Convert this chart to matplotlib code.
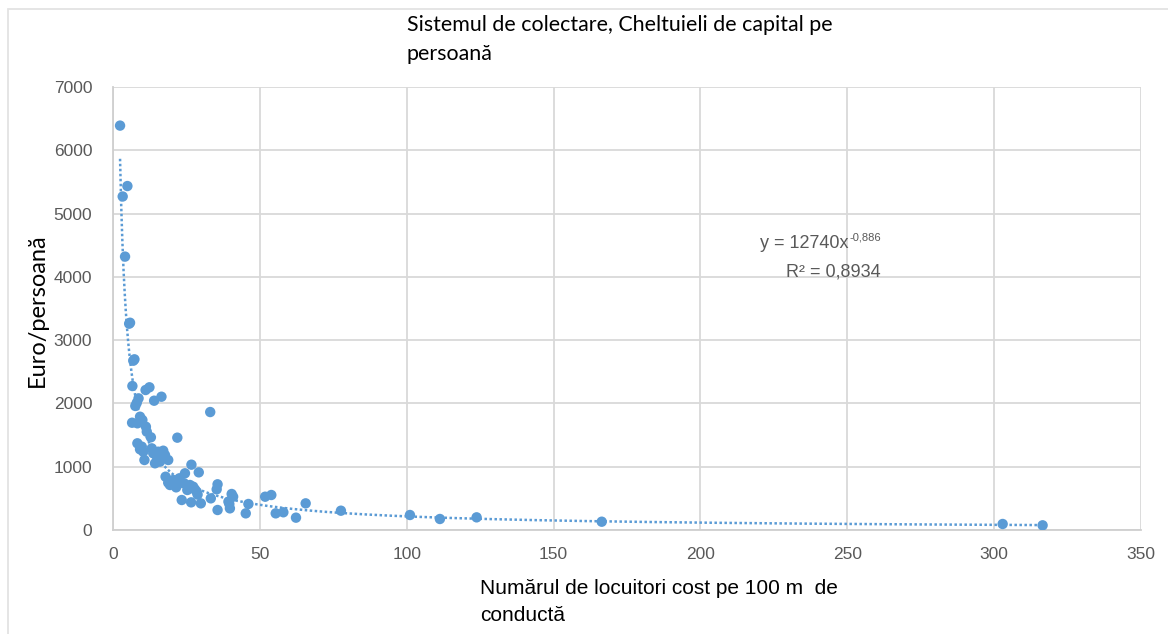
import matplotlib
matplotlib.use("Agg")
import matplotlib.pyplot as plt
import numpy as np
from matplotlib.patches import Rectangle

# ---- data ----
x_inhabitants = [2.4, 3.3, 4.9, 4.1, 5.8, 5.5, 6.9, 7.3, 6.6, 11.1, 12.4, 8.7, 8.1, 7.6, 14.0, 16.5, 33.1,
                 6.5, 9.2, 10.0, 8.3, 11.2, 11.5, 12.9, 21.9, 8.3, 9.8, 10.3, 9.2, 13.2, 13.7, 15.4, 17.1,
                 16.6, 15.1, 10.7, 14.3, 17.7, 18.8, 16.0,
                 26.7, 29.2, 17.9, 18.8, 20.5, 22.6, 24.5, 24.2, 21.5, 19.4, 22.0, 21.0, 25.3, 27.3, 28.5,
                 26.2, 27.9, 28.8, 23.4, 26.6, 29.9, 33.3, 35.6, 35.3, 35.6, 40.4, 40.9, 39.3, 39.8, 39.6,
                 45.2, 46.1, 51.8, 53.9, 55.4, 58.0, 62.3, 65.6, 77.6, 101.1, 111.3, 123.8, 166.4, 302.9, 316.5]
y_cost = [6390, 5270, 5435, 4320, 3275, 3260, 2675, 2697, 2275, 2212, 2255, 2080, 2011, 1960, 2043, 2106, 1864,
          1695, 1790, 1738, 1686, 1632, 1553, 1465, 1459, 1370, 1317, 1237, 1275, 1290, 1212, 1237, 1253,
          1158, 1133, 1106, 1054, 1185, 1106, 1080,
          1032, 911, 842, 747, 790, 817, 896, 738, 674, 711, 720, 760, 632, 684, 605,
          711, 640, 560, 474, 437, 421, 500, 722, 643, 316, 569, 526, 448, 342, 411,
          263, 411, 526, 553, 263, 280, 195, 421, 305, 237, 174, 200, 131, 95, 74]

trend_coef = 12740
trend_exp = -0.886
r_squared = "0,8934"

x_ticks = [0, 50, 100, 150, 200, 250, 300, 350]
y_ticks = [0, 1000, 2000, 3000, 4000, 5000, 6000, 7000]

title_text = "Sistemul de colectare, Cheltuieli de capital pe\npersoană"
xlabel_text = "Numărul de locuitori cost pe 100 m  de\nconductă"
ylabel_text = "Euro/persoană"

# ---- figure ----
W, H = 1168, 634
fig = plt.figure(figsize=(W / 100, H / 100), dpi=100)
fig.patch.set_facecolor("white")

def fx(px):
    return px / W

def fy(py):
    return 1 - py / H

ax = fig.add_axes([fx(113), fy(530), fx(1141) - fx(113), fy(87) - fy(530)])

blue = "#5B9BD5"
grid_c = "#D9D9D9"
tick_c = "#595959"
lib = ["Liberation Sans", "DejaVu Sans"]
lato = ["Lato", "DejaVu Sans"]

# trendline
xt = np.linspace(min(x_inhabitants), max(x_inhabitants), 800)
ax.plot(xt, trend_coef * xt ** trend_exp, color=blue, lw=1.8, ls=(0, (1, 1)), zorder=2)

ax.scatter(x_inhabitants, y_cost, s=56, color=blue, edgecolors="none", zorder=3)

ax.set_xlim(0, 350)
ax.set_ylim(0, 7000)
ax.set_xticks(x_ticks)
ax.set_yticks(y_ticks)
ax.grid(True, color=grid_c, lw=1.3)
ax.set_axisbelow(True)
for s in ["top", "right"]:
    ax.spines[s].set_visible(False)
for s in ["left", "bottom"]:
    ax.spines[s].set_color("#CFCFCF")
    ax.spines[s].set_linewidth(1.3)
ax.tick_params(length=0, colors=tick_c)
ax.tick_params(axis="y", pad=15)
ax.tick_params(axis="x", pad=12)
for lab in ax.get_xticklabels() + ax.get_yticklabels():
    lab.set_family(lib)
    lab.set_fontsize(12.5)
    lab.set_color(tick_c)

# equation
fig.text(fx(849), fy(243), "y = 12740x", ha="right", va="center",
         family=lib, fontsize=13, color=tick_c)
fig.text(fx(849), fy(237), "-0,886", ha="left", va="center",
         family=lib, fontsize=8, color=tick_c)
fig.text(fx(833), fy(272), "R² = " + r_squared, ha="center", va="center",
         family=lib, fontsize=13, color=tick_c)

# titles
fig.text(fx(407), fy(15), title_text, ha="left", va="top", fontsize=15.4,
         family=lato, color="black", linespacing=1.55)
fig.text(fx(480), fy(579), xlabel_text, ha="left", va="top", fontsize=15,
         family=lib, color="black", linespacing=1.55)
fig.text(fx(37), fy(310), ylabel_text, ha="center", va="center", rotation=90,
         fontsize=17, family=lato, color="black")

# outer border
fig.patches.append(Rectangle((fx(8), -0.1), 1.2, fy(9) + 0.1, transform=fig.transFigure,
                             fill=False, edgecolor="#E3E3E3", lw=1.3, zorder=0))

fig.savefig("out.png", dpi=100, facecolor="white")
